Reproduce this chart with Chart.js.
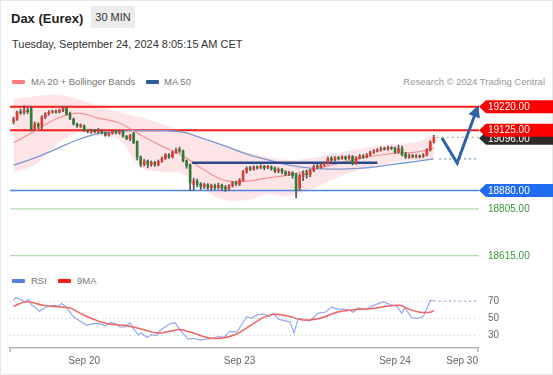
<!DOCTYPE html>
<html lang="en">
<head>
<meta charset="UTF-8">
<title>Dax (Eurex) 30 MIN</title>
<script src="https://cdn.jsdelivr.net/npm/chart.js"></script>
<style>
  body { margin: 0; background: #fff; font-family: 'Liberation Sans', Arial, sans-serif; }
  #page { position: relative; width: 553px; height: 375px; overflow: hidden; box-shadow: inset 0 0 0 1px #e8e8e8; }
  .abs { position: absolute; white-space: nowrap; }
  #title { left: 11px; top: 12px; font-size: 13px; line-height: 13px; font-weight: bold; color: #222; }
  #tf { left: 91px; top: 6px; width: 44px; height: 22px; line-height: 22px; text-align: center; font-size: 11px; color: #333; background: #ececec; }
  #date { left: 12px; top: 39px; font-size: 11px; line-height: 11px; color: #333; }
  .lg { font-size: 9.5px; line-height: 10px; color: #777; }
  .sw { position: absolute; width: 13px; height: 4px; border-radius: 1px; }
  canvas { position: absolute; left: 0; }
</style>
</head>
<body>
<div id="page">
  <div class="abs" id="title">Dax (Eurex)</div>
  <div class="abs" id="tf">30 MIN</div>
  <div class="abs" id="date">Tuesday, September 24, 2024 8:05:15 AM CET</div>

  <div class="sw" style="left:12px; top:80px; background:#ff8080"></div>
  <div class="abs lg" style="left:31px; top:77px">MA 20 + Bollinger Bands</div>
  <div class="sw" style="left:146px; top:80px; background:#2f5a9e"></div>
  <div class="abs lg" style="left:164px; top:77px">MA 50</div>
  <div class="abs lg" style="right:8px; top:77px; color:#999">Research © 2024 Trading Central</div>

  <canvas id="main" width="553" height="180" style="top:90px"></canvas>

  <div class="sw" style="left:12px; top:279px; background:#5b7fe0"></div>
  <div class="abs lg" style="left:31px; top:276px">RSI</div>
  <div class="sw" style="left:58px; top:279px; background:#ff1a1a"></div>
  <div class="abs lg" style="left:77px; top:276px">9MA</div>

  <canvas id="rsi" width="553" height="87" style="top:288px"></canvas>
</div>
<script>
// candles, 30 min, index 0 .. 119
const opens = [19160,19170,19200,19196,19206,19212,19128,19150,19142,19178,
  19192,19198,19202,19197,19205,19214,19192,19170,19150,19140,
  19142,19124,19118,19124,19118,19122,19114,19104,19112,19118,
  19114,19120,19100,19090,19112,19078,19016,18986,19000,18986,
  18994,18984,18998,19010,19024,19016,19034,19046,19040,19000,
  18984,18904,18918,18906,18896,18904,18892,18900,18892,18902,
  18894,18886,18900,18912,18906,18922,18954,18972,18966,18976,
  18972,18978,18972,18976,18970,18958,18966,18956,18946,18952,
  18944,18890,18936,18952,18944,18960,18980,18974,18984,18990,
  19010,19004,19013,19010,19016,19010,19018,18990,19012,19020,
  19016,19024,19034,19040,19044,19051,19048,19055,19052,19036,
  19050,19028,19016,19022,19016,19021,19018,19024,19044,19076];
const highs = [19178,19202,19210,19224,19216,19222,19158,19155,19184,19196,
  19204,19206,19206,19210,19222,19220,19198,19174,19154,19150,
  19146,19128,19128,19128,19132,19126,19118,19116,19122,19124,
  19124,19124,19104,19108,19116,19082,19020,19006,19004,19000,
  18998,19004,19016,19030,19030,19040,19052,19056,19044,19004,
  18988,18930,18926,18912,18910,18908,18906,18906,18910,18906,
  18900,18904,18916,18918,18928,18962,18976,18978,18980,18980,
  18984,18982,18982,18980,18976,18972,18970,18960,18958,18956,
  18950,18946,18960,18962,18966,18984,18986,18992,18996,19016,
  19018,19018,19018,19022,19020,19024,19022,19018,19026,19026,
  19030,19040,19046,19050,19056,19056,19060,19058,19056,19064,
  19060,19034,19028,19026,19026,19024,19030,19050,19082,19104];
const lows = [19150,19164,19190,19190,19192,19122,19122,19130,19128,19172,
  19186,19194,19194,19195,19200,19186,19168,19146,19136,19136,
  19120,19114,19112,19114,19112,19110,19100,19100,19108,19110,
  19108,19096,19086,19082,19070,19004,18976,18980,18972,18978,
  18978,18980,18994,19006,19010,19012,19030,19034,18996,18970,
  18880,18880,18894,18884,18888,18884,18882,18884,18886,18880,
  18876,18880,18894,18900,18900,18918,18950,18960,18962,18966,
  18968,18964,18968,18962,18952,18952,18948,18940,18940,18930,
  18850,18880,18920,18930,18936,18956,18968,18970,18978,18986,
  18998,19000,19004,19006,19004,19006,18984,18986,19008,19010,
  19012,19020,19030,19036,19040,19044,19044,19046,19030,19032,
  19020,19010,19010,19012,19012,19012,19014,19020,19040,19072];
const closes = [19168,19198,19194,19206,19200,19128,19150,19140,19178,19192,
  19198,19202,19197,19205,19214,19190,19172,19150,19142,19146,
  19126,19120,19124,19118,19122,19114,19104,19112,19118,19114,
  19120,19100,19090,19104,19074,19016,18986,19000,18986,18994,
  18984,18998,19010,19024,19016,19034,19044,19040,19000,18980,
  18910,18918,18904,18896,18904,18892,18900,18892,18900,18890,
  18886,18900,18912,18906,18922,18956,18970,18966,18974,18972,
  18978,18972,18977,18968,18958,18966,18956,18946,18952,18940,
  18880,18940,18950,18944,18960,18978,18974,18984,18990,19010,
  19004,19012,19009,19016,19010,19018,18990,19012,19020,19016,
  19024,19034,19040,19044,19050,19047,19054,19051,19036,19050,
  19026,19016,19022,19016,19020,19017,19024,19044,19076,19096];

// moving averages and bands, read every 6 candles
const maIdx   = [0, 6, 12, 18, 24, 30, 36, 42, 48, 54, 60, 66, 72, 78, 84, 90, 96, 102, 108, 114, 119];
const ma20    = [19073,19121,19170,19194,19174,19154,19105,19060,19020,18963,18920,18918,18931,18943,18963,18983,19004,19020,19032,19036,19052];
const ma50    = [18983,19012,19048,19085,19111,19121,19123,19123,19117,19089,19060,19028,19004,18983,18971,18967,18969,18975,18987,18998,19008];
const bbUpper = [19251,19263,19268,19251,19223,19198,19178,19150,19121,19093,19060,19036,19016,19004,19012,19028,19044,19060,19069,19077,19109];
const bbLower = [18955,18983,19064,19113,19101,19085,18975,18955,18947,18882,18841,18841,18866,18857,18882,18922,18955,18975,18995,19004,19004];

const levels = [19220, 19125, 18880, 18805, 18615];
const pivotLevel = 18993, pivotFrom = 50.5, pivotTo = 103;
const projIdx = [121.3, 125.6, 131.3];
const projVal = [19093, 18991, 19215];

const rsiIdx = [0,0.7,1.8,3.3,4.2,5.2,6.1,7.3,8.4,9.9,
  11.3,12.7,13.6,14.6,15.5,16.9,18.8,20.7,22.6,24.5,
  25.9,27.3,28.7,30.2,31.6,33,33.9,35.3,36.3,37.7,
  39.1,40.5,41.5,42.9,44.3,45.7,47.1,48.5,49.5,50.9,
  52.8,54.7,56.6,58,59.4,61.3,63.2,66,67.4,68.9,
  70.7,72.6,73.6,75,76.9,78.3,79.4,80.6,82.5,83.9,
  86.3,88.2,90.1,92,93.4,95.3,96.2,97.6,99.5,101.9,
  104.7,106.6,108.5,109.9,110.8,112.7,114.6,116,118,119];
const rsiVal = [71,74,72,69,72,65,63,58,61,64,
  65,64,67,64,60,52,47,42,44,44,
  41,45,44,40,40,45,38,31,33,28,
  31,30,36,40,44,45,37,30,26,27,
  25,26,27,29,28,35,34,52,50,54,
  55,52,56,49,47,46,33,50,49,47,
  56,57,63,60,61,59,57,62,60,65,
  69,66,64,56,62,51,50,52,71,70];
const sigIdx = [0,3.7,8.4,13.2,16,18.8,22.6,26.4,31.1,33.9,37.7,40.5,44.3,47.1,50.9,54.7,
  58.5,63.2,67.9,72.6,77.3,82,86.8,91.5,96.2,100.9,105.7,109.4,112.3,115.1,117.9,119];
const sigVal = [64,69,65,63,62,56,49,44,42,40,36,33,35,37,33,28,
  27,32,44,54,53,48,50,57,60,61,64,65,60,57,57,59];

const tickIdx = [20, 64, 108, 127];
const tickLabels = ['Sep 20', 'Sep 23', 'Sep 24', 'Sep 30'];
const rsiTicks = [30, 50, 70];

const X_MIN = -1, X_MAX = 131.5;
const FONT = "'Liberation Sans', Arial, sans-serif";
Chart.defaults.font.family = FONT;

const pts = (xs, ys) => xs.map((x, i) => ({x: x, y: ys[i]}));
const last = closes.length - 1;
const candleColor = opens.map((o, i) => closes[i] >= o ? '#e53935' : '#2e7d32');

// colours of the level lines and their tags
const levelLook = [
  {line: '#ff1a1a', width: 2, box: '#ff0000', text: '#fff'},
  {line: '#ff1a1a', width: 2, box: '#ff0000', text: '#fff'},
  {line: '#4f86ea', width: 1.5, box: '#1f6cf0', text: '#fff'},
  {line: '#9ad39a', width: 1, box: null, text: '#3a9a3a'},
  {line: '#9ad39a', width: 1, box: null, text: '#3a9a3a'}
];

function tag(ctx, x0, x1, py, fill, text, color) {
  if (fill) {
    ctx.fillStyle = fill;
    ctx.beginPath();
    ctx.moveTo(x0, py);
    ctx.lineTo(x0 + 7, py - 6.5);
    ctx.lineTo(x1, py - 6.5);
    ctx.lineTo(x1, py + 6.5);
    ctx.lineTo(x0 + 7, py + 6.5);
    ctx.closePath();
    ctx.fill();
  }
  ctx.fillStyle = color;
  ctx.font = '10px ' + FONT;
  ctx.textAlign = 'left';
  ctx.textBaseline = 'middle';
  ctx.fillText(text, x0 + 9, py + 0.5);
}

const levelPlugin = {
  id: 'levels',
  afterDatasetDraw(chart, args) {
    if (args.index !== 8) return; // right after the band fill
    const {ctx, chartArea: a, scales: {y}} = chart;
    ctx.save();
    levels.forEach((v, k) => {
      const py = y.getPixelForValue(v);
      ctx.strokeStyle = levelLook[k].line;
      ctx.lineWidth = levelLook[k].width;
      ctx.beginPath();
      ctx.moveTo(a.left, py);
      ctx.lineTo(a.right + 1, py);
      ctx.stroke();
    });
    ctx.restore();
  },
  afterDatasetsDraw(chart) {
    const {ctx, chartArea: a, scales: {x, y}} = chart;
    ctx.save();
    // arrow head on the projection
    const n = projIdx.length - 1;
    const tx = x.getPixelForValue(projIdx[n]), ty = y.getPixelForValue(projVal[n]);
    const fx = x.getPixelForValue(projIdx[n - 1]), fy = y.getPixelForValue(projVal[n - 1]);
    const len = Math.hypot(tx - fx, ty - fy), ux = (tx - fx) / len, uy = (ty - fy) / len;
    const hx = tx + ux * 3, hy = ty + uy * 3;
    ctx.fillStyle = '#2f62a8';
    ctx.beginPath();
    ctx.moveTo(hx, hy);
    ctx.lineTo(hx - ux * 12 - uy * 6, hy - uy * 12 + ux * 6);
    ctx.lineTo(hx - ux * 12 + uy * 6, hy - uy * 12 - ux * 6);
    ctx.closePath();
    ctx.fill();
    // tags
    const x0 = a.right + 1, x1 = chart.width;
    tag(ctx, x0, x1, y.getPixelForValue(closes[last]) + 1, '#2b2b2b', closes[last].toFixed(2), '#fff');
    for (let k = levels.length - 1; k >= 0; k--) {
      const l = levelLook[k];
      tag(ctx, x0, x1, y.getPixelForValue(levels[k]), l.box, levels[k].toFixed(2), l.text);
    }
    ctx.restore();
  }
};

new Chart(document.getElementById('main'), {
  type: 'bar',
  data: {
    datasets: [
      { type: 'line', data: pts(projIdx, projVal), borderColor: '#2f62a8', borderWidth: 3,
        pointRadius: 0, clip: false, order: 0 },
      { type: 'bar', data: opens.map((o, i) => ({x: i, y: [o, closes[i]]})), backgroundColor: candleColor,
        barThickness: 2, minBarLength: 1, grouped: false, order: 1 },
      { type: 'bar', data: lows.map((l, i) => ({x: i, y: [l, highs[i]]})), backgroundColor: '#555',
        barThickness: 1, grouped: false, order: 2 },
      { type: 'line', data: [{x: pivotFrom, y: pivotLevel}, {x: pivotTo, y: pivotLevel}], borderColor: '#2b4a8b',
        borderWidth: 2.5, pointRadius: 0, order: 3 },
      { type: 'line', data: [{x: last + 0.8, y: closes[last]}, {x: 132, y: closes[last]}], borderColor: '#9a9a9a',
        borderWidth: 1, borderDash: [2, 3], pointRadius: 0, clip: false, order: 3 },
      { type: 'line', data: pts(maIdx, ma20), borderColor: '#f39393', borderWidth: 1.2, tension: 0.4,
        pointRadius: 0, order: 4 },
      { type: 'line', data: pts(maIdx, ma50), borderColor: '#7b98cf', borderWidth: 1.3, tension: 0.4,
        pointRadius: 0, order: 4 },
      { type: 'line', data: [{x: last + 1.5, y: ma50[ma50.length - 1]}, {x: 131.2, y: ma50[ma50.length - 1]}],
        borderColor: '#7b98cf', borderWidth: 1.2, borderDash: [2, 3], pointRadius: 0, clip: false, order: 4 },
      { type: 'line', data: pts(maIdx, bbUpper), borderWidth: 0, tension: 0.4, pointRadius: 0,
        fill: '+1', backgroundColor: 'rgba(248,160,170,0.28)', order: 8 },
      { type: 'line', data: pts(maIdx, bbLower), borderWidth: 0, tension: 0.4, pointRadius: 0,
        fill: false, order: 9 }
    ]
  },
  options: {
    responsive: false,
    animation: false,
    layout: { padding: { left: 10, right: 75, top: 0, bottom: 0 } },
    plugins: { legend: { display: false }, tooltip: { enabled: false } },
    scales: {
      x: { type: 'linear', min: X_MIN, max: X_MAX, offset: false, display: false },
      y: { type: 'linear', min: 18557, max: 19288, display: false }
    }
  },
  plugins: [levelPlugin]
});

const axisEnds = {
  id: 'axisEnds',
  afterDraw(chart) {
    const {ctx, chartArea: a} = chart;
    ctx.save();
    ctx.strokeStyle = '#b5b5b5';
    ctx.lineWidth = 1.5;
    [a.left, a.right].forEach(px => {
      ctx.beginPath();
      ctx.moveTo(px, a.bottom);
      ctx.lineTo(px, a.bottom + 4);
      ctx.stroke();
    });
    ctx.restore();
  }
};

new Chart(document.getElementById('rsi'), {
  type: 'line',
  data: {
    datasets: [
      { data: pts(sigIdx, sigVal), borderColor: '#f26464', borderWidth: 1.5, tension: 0.4, pointRadius: 0 },
      { data: pts(rsiIdx, rsiVal), borderColor: '#91a9ef', borderWidth: 1.2, tension: 0, pointRadius: 0 },
      { data: [{x: rsiIdx[rsiIdx.length - 1], y: rsiVal[rsiVal.length - 1]}, {x: 131.2, y: rsiVal[rsiVal.length - 1]}],
        borderColor: '#91a9ef', borderWidth: 1.2, borderDash: [2, 3], pointRadius: 0 }
    ]
  },
  options: {
    responsive: false,
    animation: false,
    layout: { padding: { left: 10, right: 45, top: 0, bottom: 5 } },
    plugins: { legend: { display: false }, tooltip: { enabled: false } },
    scales: {
      x: {
        type: 'linear', min: X_MIN, max: X_MAX, offset: false,
        afterBuildTicks: s => { s.ticks = tickIdx.map(v => ({value: v})); },
        afterFit: s => { s.height = 22; s.paddingLeft = 0; s.paddingRight = 0; },
        grid: { display: false, drawTicks: false },
        border: { display: true, color: '#b5b5b5', width: 1.5 },
        ticks: { autoSkip: false, maxRotation: 0, padding: 7, color: '#666', font: { size: 10 },
                 callback: (v, i) => tickLabels[i] }
      },
      y: {
        position: 'right', min: 15.8, max: 85,
        afterBuildTicks: s => { s.ticks = rsiTicks.map(v => ({value: v})); },
        afterFit: s => { s.width = 30; s.paddingTop = 0; s.paddingBottom = 0; },
        grid: { color: '#c4c4c4', drawTicks: false },
        border: { display: false, dash: [1, 3] },
        ticks: { padding: 10, color: '#666', font: { size: 10 } }
      }
    }
  },
  plugins: [axisEnds]
});
</script>
</body>
</html>
